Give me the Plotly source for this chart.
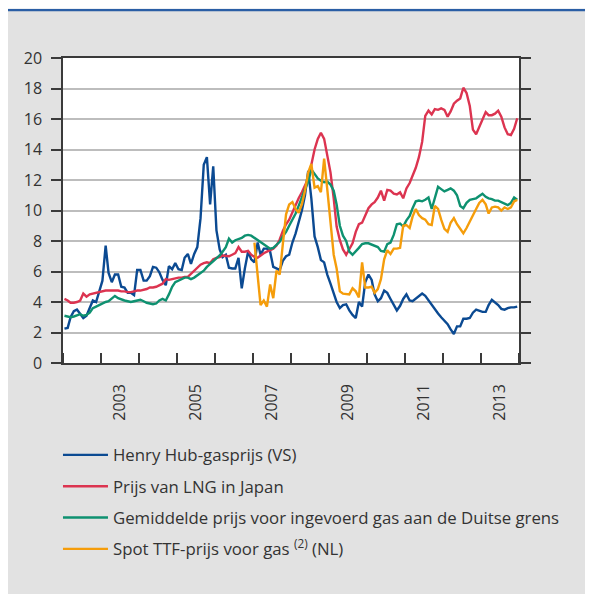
import pandas as pd
import plotly.graph_objects as go

# monthly prices (USD/MMBtu), Jan 2002 - Dec 2013, plotted mid-month
henry_hub = [
    2.25, 2.3, 3.0, 3.4, 3.5, 3.25, 2.95, 3.1, 3.55, 4.1, 4.0, 4.75,        # 2002
    5.4, 7.7, 5.9, 5.3, 5.8, 5.8, 5.0, 4.95, 4.6, 4.6, 4.45, 6.1,           # 2003
    6.1, 5.4, 5.4, 5.7, 6.3, 6.25, 5.95, 5.45, 5.1, 6.35, 6.15, 6.55,       # 2004
    6.15, 6.1, 6.9, 7.15, 6.5, 7.15, 7.6, 9.5, 13.0, 13.5, 10.4, 12.9,      # 2005
    8.7, 7.45, 6.95, 7.1, 6.25, 6.2, 6.2, 6.9, 4.9, 6.2, 7.3, 6.8,          # 2006
    6.6, 7.9, 7.1, 7.5, 7.5, 7.3, 6.3, 6.2, 6.1, 6.7, 7.0, 7.1,             # 2007
    7.9, 8.5, 9.2, 10.0, 11.0, 12.6, 10.8, 8.3, 7.6, 6.75, 6.6, 5.8,        # 2008
    5.2, 4.5, 4.0, 3.6, 3.8, 3.85, 3.45, 3.15, 2.95, 4.0, 3.7, 5.3,         # 2009
    5.8, 5.45, 4.5, 4.05, 4.25, 4.75, 4.6, 4.2, 3.85, 3.45, 3.75, 4.2,      # 2010
    4.5, 4.1, 4.05, 4.2, 4.35, 4.55, 4.4, 4.1, 3.8, 3.5, 3.25, 3.0,         # 2011
    2.75, 2.55, 2.2, 1.9, 2.4, 2.4, 2.9, 2.9, 2.95, 3.3, 3.5, 3.4,          # 2012
    3.35, 3.35, 3.8, 4.15, 4.0, 3.8, 3.55, 3.5, 3.6, 3.65, 3.65, 3.7,       # 2013
]

lng_japan = [
    4.2, 4.1, 3.95, 3.95, 4.0, 4.1, 4.55, 4.35, 4.5, 4.55, 4.6, 4.65,
    4.7, 4.75, 4.75, 4.75, 4.75, 4.75, 4.7, 4.7, 4.65, 4.65, 4.7, 4.75,
    4.75, 4.8, 4.85, 4.95, 4.95, 5.0, 5.1, 5.2, 5.5, 5.45, 5.5, 5.55,
    5.6, 5.6, 5.65, 5.65, 5.85, 6.1, 6.3, 6.45, 6.55, 6.6, 6.55, 6.8,
    6.9, 6.95, 7.05, 7.0, 7.0, 7.1, 7.2, 7.6, 7.3, 7.3, 7.35, 7.1,
    6.95, 6.9, 7.05, 7.2, 7.3, 7.4, 7.5, 7.7, 8.1, 8.65, 9.1, 9.4,
    9.9, 10.3, 10.8, 11.2, 11.7, 12.1, 13.0, 14.0, 14.7, 15.1, 14.7, 13.5,
    12.5, 10.8, 8.95, 8.05, 7.45, 7.1, 7.5, 7.85, 8.6, 9.1, 9.2, 9.7,
    10.15, 10.4, 10.55, 10.85, 11.3, 10.65, 11.35, 11.3, 11.1, 11.05, 11.2, 10.8,
    11.45, 11.8, 12.3, 12.8, 13.5, 14.5, 16.2, 16.55, 16.3, 16.65, 16.6, 16.7,
    16.6, 16.15, 16.5, 17.0, 17.2, 17.35, 18.05, 17.7, 16.85, 15.3, 15.0, 15.45,
    16.0, 16.45, 16.25, 16.25, 16.35, 16.55, 16.15, 15.45, 15.0, 14.95, 15.35, 16.05,
]

german_border = [
    3.1, 3.05, 3.0, 3.05, 3.1, 3.2, 3.1, 3.15, 3.3, 3.6, 3.7, 3.8,
    3.95, 4.0, 4.05, 4.2, 4.4, 4.25, 4.15, 4.1, 4.05, 4.0, 4.05, 4.1,
    4.15, 4.05, 3.95, 3.9, 3.85, 3.9, 4.1, 4.2, 4.1, 4.5, 5.0, 5.3,
    5.4, 5.55, 5.6, 5.6, 5.5, 5.6, 5.75, 5.9, 6.05, 6.3, 6.5, 6.65,
    6.9, 7.05, 7.3, 7.6, 8.15, 7.9, 8.05, 8.1, 8.2, 8.35, 8.4, 8.35,
    8.2, 8.05, 7.9, 7.75, 7.65, 7.5, 7.55, 7.75, 7.95, 8.3, 8.6, 9.0,
    9.4, 9.8, 10.3, 10.9, 11.4, 11.9, 12.7, 12.4, 12.1, 11.95, 11.85, 11.9,
    11.7, 11.3, 10.4, 9.0, 8.35, 8.0, 7.3, 7.1, 7.3, 7.55, 7.8, 7.85,
    7.85, 7.75, 7.7, 7.6, 7.35, 7.3, 7.8, 7.9, 8.4, 9.1, 9.15, 8.95,
    9.35, 9.65, 10.15, 10.6, 10.65, 10.6, 10.7, 10.85, 10.1, 10.75, 11.55, 11.4,
    11.25, 11.35, 11.45, 11.3, 11.0, 10.3, 10.15, 10.5, 10.7, 10.75, 10.8, 10.95,
    11.1, 10.9, 10.8, 10.75, 10.65, 10.65, 10.55, 10.45, 10.35, 10.5, 10.85, 10.7,
]

# spot TTF only from Jan 2007
ttf_spot = [
    7.9, 5.85, 3.8, 4.1, 3.7, 5.15, 4.25, 6.05, 5.8, 7.8, 9.75, 10.4,       # 2007
    10.55, 10.1, 9.85, 10.4, 11.3, 12.5, 13.05, 11.5, 11.6, 11.2, 13.4, 11.4,  # 2008
    9.4, 7.1, 6.2, 4.7, 4.55, 4.5, 4.5, 4.9, 4.7, 4.3, 6.6, 4.95,           # 2009
    4.95, 5.0, 4.6, 4.85, 5.5, 6.8, 7.4, 7.15, 7.5, 7.5, 7.55, 9.0,         # 2010
    9.05, 8.85, 9.6, 10.1, 9.7, 9.5, 9.4, 9.1, 9.05, 10.3, 10.1, 9.4,       # 2011
    8.8, 8.6, 9.2, 9.5, 9.1, 8.8, 8.5, 8.85, 9.3, 9.7, 10.1, 10.5,          # 2012
    10.7, 10.4, 9.8, 10.2, 10.25, 10.2, 10.0, 10.2, 10.1, 10.2, 10.6, 10.7, # 2013
]

label_years = [2003, 2005, 2007, 2009, 2011, 2013]

months = pd.date_range("2002-01-01", "2013-12-01", freq="MS") + pd.Timedelta(days=14)
ttf_months = months[60:]

series = [
    ("Henry Hub-gasprijs (VS)", months, henry_hub, "#0b4a92"),
    ("Prijs van LNG in Japan", months, lng_japan, "#dc3450"),
    ("Gemiddelde prijs voor ingevoerd gas aan de Duitse grens", months, german_border, "#0e9170"),
    ("Spot TTF-prijs voor gas <sup>(2)</sup> (NL)", ttf_months, ttf_spot, "#f59d0b"),
]

fig = go.Figure()
for i, (name, x, y, color) in enumerate(series):
    fig.add_trace(go.Scatter(
        x=x, y=y, name=name, mode="lines",
        line=dict(color=color, width=2.4),
        legendgroup=str(i),
    ))

axis_col = "#3a3a3a"

# page has an 8px body margin, so the figure is sized to fill the rest of the window
fig.update_layout(
    width=585, height=586,
    margin=dict(l=55, r=74, t=50, b=231),
    paper_bgcolor="#e2e2e2",
    plot_bgcolor="white",
    font=dict(family="Open Sans", size=16, color="#333333"),
    legend=dict(
        x=-0.011, y=-0.244, xanchor="left", yanchor="top",
        bgcolor="rgba(0,0,0,0)", font=dict(size=16.8, color="#333333"),
        itemwidth=45, tracegroupgap=6.5, traceorder="grouped",
    ),
    xaxis=dict(
        type="date", range=["2002-01-01", "2014-01-01"],
        tickvals=[f"{y}-07-01" for y in label_years],
        ticktext=[str(y) for y in label_years],
        tickangle=-90, ticks="", ticklabelstandoff=13,
        showgrid=False, zeroline=False,
        showline=True, linecolor=axis_col, linewidth=1.5, mirror=True,
        minor=dict(ticks="inside", ticklen=10, tickwidth=1.5, tickcolor=axis_col,
                   dtick="M12", tick0="2002-01-01", showgrid=False),
    ),
    yaxis=dict(
        range=[0, 20], dtick=2, tick0=0,
        ticks="outside", ticklen=10, tickwidth=1.5, tickcolor=axis_col,
        ticklabelstandoff=6,
        showgrid=True, gridcolor="#bdbdbd", gridwidth=1.5, zeroline=False,
        # mirrored ticks give the short outside ticks on the right edge
        showline=True, linecolor=axis_col, linewidth=1.5, mirror="ticks",
    ),
    yaxis2=dict(
        # right-hand labels only; long invisible ticks push them away from the axis
        overlaying="y", side="right", anchor="x",
        range=[0, 20], dtick=2, tick0=0,
        ticks="outside", ticklen=16, tickcolor="rgba(0,0,0,0)",
        showgrid=False, zeroline=False, showline=False,
    ),
    shapes=[
        # blue rule along the top of the grey panel
        dict(type="line", xref="paper", yref="paper", x0=-0.2, x1=1.2, y0=1.1574, y1=1.1574,
             line=dict(color="#2a5ea5", width=2.5)),
        dict(type="rect", xref="paper", yref="paper", x0=-0.2, x1=1.2, y0=1.1615, y1=1.2,
             fillcolor="white", line=dict(width=0)),
    ],
)

fig.write_html("out.html")
